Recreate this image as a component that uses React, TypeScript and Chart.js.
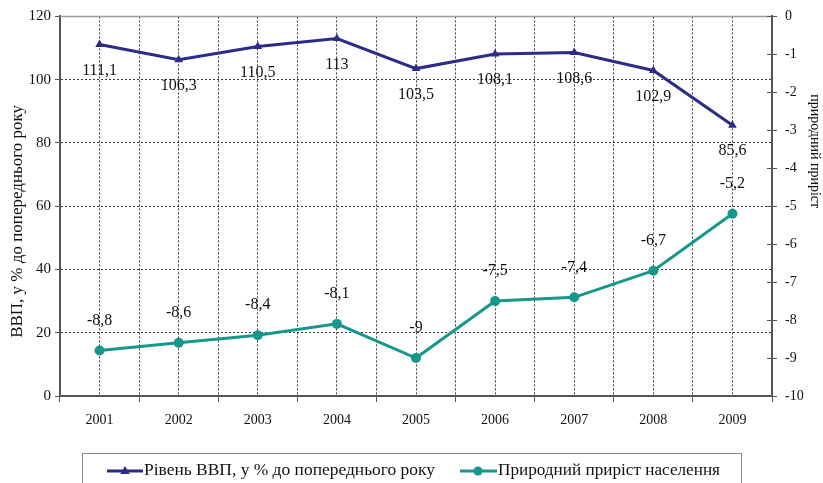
import React, { useEffect, useRef } from "react";
import { Chart, registerables } from "chart.js";

Chart.register(...registerables);

const years = ["2001", "2002", "2003", "2004", "2005", "2006", "2007", "2008", "2009"];
const gdpLevel = [111.1, 106.3, 110.5, 113, 103.5, 108.1, 108.6, 102.9, 85.6];
const naturalGrowth = [-8.8, -8.6, -8.4, -8.1, -9, -7.5, -7.4, -6.7, -5.2];
const gdpLabel = "Рівень ВВП, у % до попереднього року";
const growthLabel = "Природний приріст населення";
const leftTitle = "ВВП, у % до попереднього року";
const rightTitle = "природний приріст";

const BLUE = "#2b2b88";
const TEAL = "#17978b";
const AXIS = "#555555";
const GRID = "#3a3a3a";
const SERIF = "'Liberation Serif', 'Times New Roman', serif";

const fmt = (v: number) => String(v).replace(".", ",");

function drawTriangle(ctx: CanvasRenderingContext2D, x: number, y: number, r: number, color: string) {
  ctx.save();
  ctx.fillStyle = color;
  ctx.beginPath();
  ctx.moveTo(x, y - r);
  ctx.lineTo(x + r * 0.95, y + r * 0.6);
  ctx.lineTo(x - r * 0.95, y + r * 0.6);
  ctx.closePath();
  ctx.fill();
  ctx.restore();
}

function drawCircle(ctx: CanvasRenderingContext2D, x: number, y: number, r: number, color: string) {
  ctx.save();
  ctx.fillStyle = color;
  ctx.beginPath();
  ctx.arc(x, y, r, 0, Math.PI * 2);
  ctx.fill();
  ctx.restore();
}

function fitText(ctx: CanvasRenderingContext2D, text: string, x: number, y: number, width: number) {
  const w = ctx.measureText(text).width;
  ctx.save();
  ctx.translate(x, y);
  ctx.scale(width / w, 1);
  ctx.fillText(text, 0, 0);
  ctx.restore();
}

const extrasPlugin = {
  id: "extras",
  afterDatasetsDraw(chart: any) {
    const ctx: CanvasRenderingContext2D = chart.ctx;
    const area = chart.chartArea;
    // top border
    ctx.save();
    ctx.strokeStyle = "#9a9a9a";
    ctx.lineWidth = 1.5;
    ctx.beginPath();
    ctx.moveTo(area.left, area.top);
    ctx.lineTo(area.right, area.top);
    ctx.stroke();
    ctx.restore();

    // right axis inner tick halves
    const y1 = chart.scales.y1;
    ctx.save();
    ctx.strokeStyle = AXIS;
    ctx.lineWidth = 1;
    y1.ticks.forEach((t: any) => {
      const py = Math.round(y1.getPixelForValue(t.value)) + 0.5;
      ctx.beginPath();
      ctx.moveTo(area.right - 5, py);
      ctx.lineTo(area.right, py);
      ctx.stroke();
    });
    ctx.restore();

    // data labels
    ctx.save();
    ctx.font = `16px ${SERIF}`;
    ctx.fillStyle = "#111";
    ctx.textAlign = "center";
    ctx.textBaseline = "middle";
    const m0 = chart.getDatasetMeta(0);
    m0.data.forEach((p: any, i: number) => {
      ctx.fillText(fmt(gdpLevel[i]), p.x, p.y + 26);
    });
    const m1 = chart.getDatasetMeta(1);
    m1.data.forEach((p: any, i: number) => {
      ctx.fillText(fmt(naturalGrowth[i]), p.x, p.y - 30);
    });
    ctx.restore();

    // axis titles
    ctx.save();
    ctx.fillStyle = "#111";
    ctx.textAlign = "center";
    ctx.textBaseline = "middle";
    ctx.font = `14px ${SERIF}`;
    ctx.save();
    ctx.translate(815, area.top + (area.bottom - area.top) * 0.355);
    ctx.rotate(Math.PI / 2);
    ctx.fillText(rightTitle, 0, 0);
    ctx.restore();
    ctx.font = `17px ${SERIF}`;
    ctx.save();
    ctx.translate(18, area.top + (area.bottom - area.top) * 0.54);
    ctx.rotate(-Math.PI / 2);
    ctx.fillText(leftTitle, 0, 0);
    ctx.restore();
    ctx.restore();

    // legend
    ctx.save();
    ctx.strokeStyle = "#8a8a8a";
    ctx.lineWidth = 1;
    ctx.strokeRect(82.5, 453.5, 659, 40);
    const ly = 471;
    ctx.lineWidth = 3;
    ctx.strokeStyle = BLUE;
    ctx.beginPath();
    ctx.moveTo(107, ly);
    ctx.lineTo(143, ly);
    ctx.stroke();
    drawTriangle(ctx, 125, ly, 5, BLUE);
    ctx.strokeStyle = TEAL;
    ctx.beginPath();
    ctx.moveTo(460, ly);
    ctx.lineTo(497, ly);
    ctx.stroke();
    drawCircle(ctx, 478, ly, 4.5, TEAL);
    ctx.font = `16px ${SERIF}`;
    ctx.fillStyle = "#111";
    ctx.textAlign = "left";
    ctx.textBaseline = "middle";
    fitText(ctx, gdpLabel, 144, ly, 291);
    fitText(ctx, growthLabel, 498, ly, 222);
    ctx.restore();
  },
};

export default function App() {
  const ref = useRef<HTMLCanvasElement | null>(null);

  useEffect(() => {
    document.body.style.margin = "0";
    if (!ref.current) return;
    const chart = new Chart(ref.current, {
      type: "line",
      data: {
        labels: years,
        datasets: [
          {
            label: gdpLabel,
            data: gdpLevel,
            yAxisID: "y",
            xAxisID: "x",
            borderColor: BLUE,
            backgroundColor: BLUE,
            borderWidth: 3,
            pointStyle: "triangle",
            pointRadius: 5,
            pointBorderWidth: 0,
            tension: 0,
          },
          {
            label: growthLabel,
            data: naturalGrowth,
            yAxisID: "y1",
            xAxisID: "x",
            borderColor: TEAL,
            backgroundColor: TEAL,
            borderWidth: 3,
            pointStyle: "circle",
            pointRadius: 5,
            pointBorderWidth: 0,
            tension: 0,
          },
        ],
      },
      options: {
        responsive: false,
        animation: false,
        layout: { padding: { top: 16, bottom: 57, left: 0, right: 0 } },
        plugins: { legend: { display: false }, tooltip: { enabled: false } },
        scales: {
          x: {
            type: "category",
            position: "bottom",
            offset: true,
            afterFit: (s: any) => { s.height = 30; },
            grid: {
              offset: true,
              color: GRID,
              lineWidth: 1,
              tickLength: 6,
              tickColor: AXIS,
              tickBorderDash: [],
            },
            border: { color: AXIS, width: 2, dash: [2, 2] },
            ticks: {
              color: "#111",
              font: { family: SERIF, size: 14 },
              padding: 10,
              maxRotation: 0,
            },
          },
          xc: {
            type: "category",
            position: "bottom",
            offset: true,
            afterFit: (s: any) => { s.height = 0; },
            grid: {
              offset: false,
              color: GRID,
              lineWidth: 1,
              drawTicks: false,
            },
            border: { display: false, dash: [2, 2] },
            ticks: { display: false },
          },
          y: {
            type: "linear",
            position: "left",
            min: 0,
            max: 120,
            afterFit: (s: any) => { s.width = 60; },
            ticks: {
              stepSize: 20,
              color: "#111",
              font: { family: SERIF, size: 15 },
              padding: 4,
            },
            grid: {
              color: GRID,
              lineWidth: 1,
              tickLength: 5,
              tickColor: AXIS,
              tickBorderDash: [],
            },
            border: { color: AXIS, width: 2, dash: [2, 2] },
          },
          y1: {
            type: "linear",
            position: "right",
            min: -10,
            max: 0,
            afterFit: (s: any) => { s.width = 51; },
            ticks: {
              stepSize: 1,
              color: "#111",
              font: { family: SERIF, size: 14 },
              padding: 8,
            },
            grid: {
              drawOnChartArea: false,
              tickLength: 5,
              tickColor: AXIS,
              lineWidth: 1,
            },
            border: { color: AXIS, width: 2 },
          },
        },
      },
      plugins: [extrasPlugin],
    } as any);
    return () => chart.destroy();
  }, []);

  return (
    <div style={{ position: "fixed", left: 0, top: 0, width: 823, height: 483, background: "#fff" }}>
      <canvas ref={ref} width={823} height={483} style={{ width: 823, height: 483, display: "block" }} />
    </div>
  );
}
